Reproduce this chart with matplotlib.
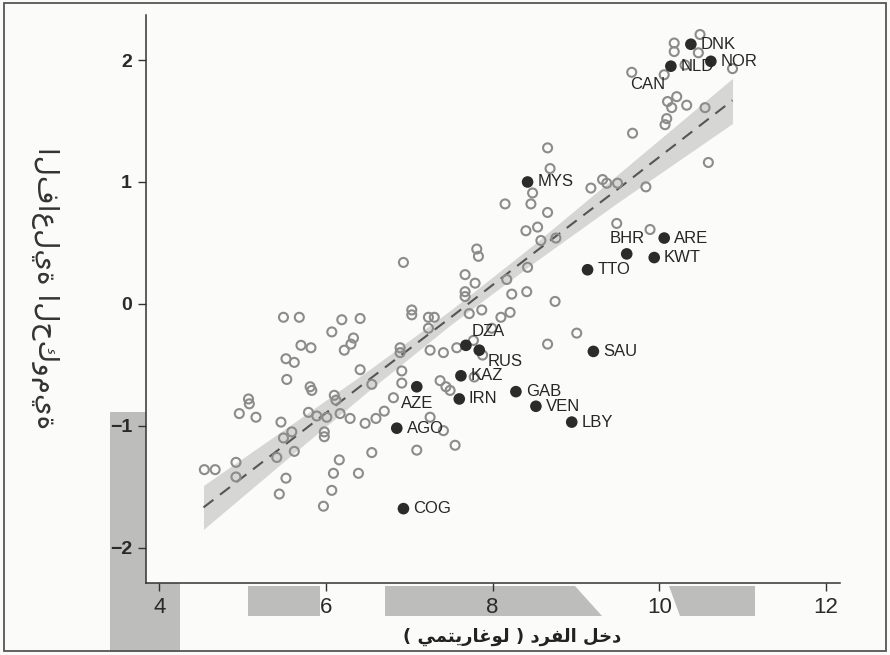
import matplotlib
matplotlib.use("Agg")
import matplotlib.pyplot as plt
from matplotlib.patches import Polygon, Rectangle

# open circles: all other countries (log income per head, government effectiveness)
open_x = [10.49, 10.18, 10.18, 10.47, 10.31, 10.88, 9.67, 10.06, 10.21, 10.10, 10.33, 10.15, 10.55, 10.09, 10.07, 9.68, 10.59,
          8.66, 8.69, 8.48, 9.18, 9.32, 9.37, 9.50, 9.84, 8.15, 8.46, 8.66, 8.40, 8.54, 8.58, 8.76, 9.49, 9.89, 7.81, 7.83,
          8.42, 7.67, 8.17, 6.93, 7.79, 7.67, 7.67, 8.23, 8.41, 8.75, 8.21, 8.10, 7.87, 7.72, 9.01, 8.66, 7.99,
          7.03, 7.03, 7.23, 7.30, 7.23, 6.41, 6.19, 5.49, 5.68, 6.07, 6.33, 6.30, 6.22, 5.70, 5.82, 6.89, 6.89, 7.25, 7.41,
          7.57, 7.77, 7.88, 5.52, 5.62, 6.41, 6.91, 5.53, 5.81, 5.83, 6.55, 6.91, 7.37, 7.44, 7.49, 7.78, 5.07, 5.08, 4.96,
          5.16, 6.10, 6.12, 6.81, 5.79, 5.89, 6.01, 6.17, 6.29, 6.47, 6.60, 6.70, 7.25, 5.46, 5.59, 5.49, 5.98, 5.98, 7.41,
          5.62, 5.41, 6.16, 6.55, 7.09, 7.55, 4.54, 4.67, 4.92, 4.92, 5.52, 6.09, 6.39, 5.44, 6.07, 5.97]
open_y = [2.21, 2.14, 2.07, 2.06, 1.96, 1.93, 1.90, 1.88, 1.70, 1.66, 1.63, 1.61, 1.61, 1.52, 1.47, 1.40, 1.16,
          1.28, 1.11, 0.91, 0.95, 1.02, 0.99, 0.99, 0.96, 0.82, 0.82, 0.75, 0.60, 0.63, 0.52, 0.54, 0.66, 0.61, 0.45, 0.39,
          0.30, 0.24, 0.20, 0.34, 0.17, 0.10, 0.06, 0.08, 0.10, 0.02, -0.07, -0.11, -0.05, -0.08, -0.24, -0.33, -0.20,
          -0.05, -0.09, -0.11, -0.11, -0.20, -0.12, -0.13, -0.11, -0.11, -0.23, -0.28, -0.33, -0.38, -0.34, -0.36, -0.36,
          -0.40, -0.38, -0.40, -0.36, -0.30, -0.42, -0.45, -0.48, -0.54, -0.55, -0.62, -0.68, -0.71, -0.66, -0.65, -0.63,
          -0.68, -0.71, -0.60, -0.78, -0.82, -0.90, -0.93, -0.75, -0.79, -0.77, -0.89, -0.92, -0.93, -0.90, -0.94, -0.98,
          -0.94, -0.88, -0.93, -0.97, -1.05, -1.10, -1.05, -1.09, -1.04, -1.21, -1.26, -1.28, -1.22, -1.20, -1.16, -1.36,
          -1.36, -1.30, -1.42, -1.43, -1.39, -1.39, -1.56, -1.53, -1.66]

# highlighted (resource-rich and reference) countries
hl_codes = ["DNK", "NLD", "NOR", "MYS", "ARE", "BHR", "KWT", "TTO", "DZA", "RUS",
            "KAZ", "AZE", "IRN", "GAB", "VEN", "LBY", "SAU", "AGO", "COG"]
hl_x = [10.38, 10.14, 10.62, 8.42, 10.06, 9.61, 9.94, 9.14, 7.68, 7.84,
        7.62, 7.09, 7.60, 8.28, 8.52, 8.95, 9.21, 6.85, 6.93]
hl_y = [2.13, 1.95, 1.99, 1.00, 0.54, 0.41, 0.38, 0.28, -0.34, -0.38,
        -0.59, -0.68, -0.78, -0.72, -0.84, -0.97, -0.39, -1.02, -1.68]

# Canada is labelled but drawn as an open circle
can_x, can_y = 10.06, 1.88

# fitted line and its confidence band
fit_x = [4.53, 5.5, 6.5, 7.5, 8.5, 9.5, 10.88]
fit_y = [-1.67, -1.16, -0.63, -0.11, 0.42, 0.94, 1.67]
band_lo = [-1.85, -1.29, -0.72, -0.17, 0.34, 0.83, 1.48]
band_hi = [-1.49, -1.03, -0.55, -0.05, 0.49, 1.06, 1.85]

x_ticks = [4, 6, 8, 10, 12]
y_ticks = [-2, -1, 0, 1, 2]

# x label, written in Arabic presentation forms in display order (matplotlib does no shaping)
x_label = ("( " + "\uFEF2\uFEE4\uFE98\uFEF3\uFEAD\uFE8E\uFECF\uFEEE\uFEDF" + " ) "
           + "\uFEA9\uFEAE\uFED4\uFEDF\uFE8D" + " " + "\uFEDE\uFEA7\uFEA9")
y_label = "الفاعلية الحكومية"

W, H = 890, 655
fig = plt.figure(figsize=(W / 100, H / 100), dpi=100)
fig.patch.set_facecolor("#fbfbf9")

def fpx(px, py):
    return (px / W, 1 - py / H)

# grey shapes of the printed page behind the chart
grey = "#bdbdbb"
for pts in [[(110, 412), (180, 412), (180, 652), (110, 652)],
            [(248, 586), (320, 586), (320, 616), (248, 616)],
            [(385, 586), (575, 586), (602, 616), (385, 616)],
            [(669, 586), (755, 586), (755, 616), (680, 616)]]:
    fig.add_artist(Polygon([fpx(*p) for p in pts], closed=True, facecolor=grey,
                           edgecolor="none", transform=fig.transFigure, zorder=-1))
fig.add_artist(Rectangle(fpx(4, 651), 882 / W, 648 / H, fill=False, edgecolor="#555555",
                         linewidth=1.3, transform=fig.transFigure, zorder=5))

ax = fig.add_axes([146 / W, 1 - 583 / H, (840 - 146) / W, (583 - 15) / H])
ax.set_facecolor("#fbfbf9")

ax.fill_between(fit_x, band_lo, band_hi, color="#d6d6d4", linewidth=0, zorder=1)
ax.plot(fit_x, fit_y, color="#555555", linestyle=(0, (6, 4)), linewidth=1.5, zorder=2)

ax.scatter(open_x, open_y, s=42, facecolors="none", edgecolors="#8c8c8c", linewidths=1.5, zorder=3)
ax.scatter(hl_x, hl_y, s=70, color="#2b2b2b", edgecolors="none", zorder=4)

offsets = {"BHR": (0, 11, "center"), "DZA": (4, 10, "left"), "RUS": (6, -8, "left"),
           "AZE": (0, -12, "center")}
lab_font = dict(fontsize=12, color="#262626", family="Liberation Sans", va="center")
for code, x, y in zip(hl_codes, hl_x, hl_y):
    dx, dy, ha = offsets.get(code, (7, 0, "left"))
    ax.annotate(code, (x, y), xytext=(dx, dy), textcoords="offset points", ha=ha, zorder=5, **lab_font)
ax.annotate("CAN", (can_x, can_y), xytext=(1, -7), textcoords="offset points", ha="right", zorder=5, **lab_font)

ax.set_xlim(3.84, 12.17)
ax.set_ylim(-2.29, 2.37)
ax.set_xticks(x_ticks)
ax.set_yticks(y_ticks)
ax.set_xticklabels([str(t) for t in x_ticks], fontsize=16, family=["Liberation Sans Narrow", "Liberation Sans"],
                   color="#2a2a2a")
ax.set_yticklabels([str(t).replace("-", "\u2212") for t in y_ticks], fontsize=14, family="Liberation Sans",
                   fontweight="bold", color="#2a2a2a")
ax.tick_params(direction="out", length=6, width=1, color="#333333", pad=4)
for s in ["top", "right"]:
    ax.spines[s].set_visible(False)
for s in ["left", "bottom"]:
    ax.spines[s].set_color("#333333")
    ax.spines[s].set_linewidth(1.1)

fig.text(*fpx(512, 637), x_label, ha="center", va="center", fontsize=13, fontweight="bold",
         family="DejaVu Sans", color="#222222")
fig.text(*fpx(45, 288), y_label, ha="center", va="center", rotation=270, fontsize=20,
         family="DejaVu Sans", color="#333333")

fig.savefig("out.png", dpi=100, facecolor=fig.get_facecolor())
